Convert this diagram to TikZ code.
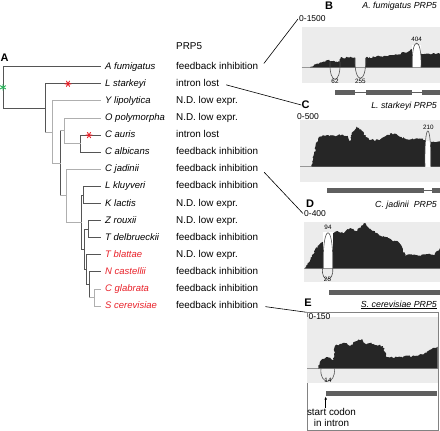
\documentclass[tikz,border=0pt]{standalone}
\usepackage{fontspec}
\setmainfont{Liberation Sans}
\usetikzlibrary{positioning,decorations.pathmorphing,arrows.meta}
\definecolor{TreeDark}{RGB}{85,85,85}
\definecolor{TreeLight}{RGB}{175,175,175}
\definecolor{SpRed}{RGB}{232,32,40}
\definecolor{StarGreen}{RGB}{40,180,90}
\definecolor{PanelBg}{RGB}{236,236,236}
\definecolor{CovDark}{RGB}{38,38,38}
\definecolor{ExonGray}{RGB}{95,95,95}
\definecolor{JuncGray}{RGB}{80,80,80}
\definecolor{BaseGray}{RGB}{150,150,150}
\definecolor{FrameGray}{RGB}{130,130,130}
\newcommand{\fsz}[1]{\fontsize{#1}{1.2\dimexpr#1pt\relax}\selectfont}

\tikzset{
  branch/.style={line width=1pt, line cap=rect},
  darkbr/.style={branch, draw=TreeDark},
  lightbr/.style={branch, draw=TreeLight},
  species/.style={anchor=west, inner xsep=5pt, inner ysep=0pt, text height=7pt, text depth=2pt, font=\fsz{9.5}\itshape},
  status/.style={anchor=west, inner xsep=3pt, inner ysep=0pt, text height=7pt, text depth=2pt, font=\fsz{9.9}},
  link/.style={draw=black, line width=0.6pt, shorten <=4pt},
  panellbl/.style={inner sep=0pt, font=\fsz{11}\bfseries},
  paneltitle/.style={anchor=east, inner sep=0pt, font=\fsz{8.8}\itshape},
  scalelbl/.style={anchor=west, inner sep=1pt, font=\fsz{8.5}},
  junction/.style={draw=JuncGray, line width=0.6pt},
  jlbl/.style={inner sep=0.3pt, font=\fsz{6.3}},
  basegray/.style={draw=BaseGray, line width=0.6pt},
  exon/.style={fill=ExonGray, draw=none, anchor=west, inner sep=0pt, minimum height=5pt},
  intron/.style={draw=ExonGray, line width=0.7pt},
  cov/.style={decoration={random steps, segment length=1.3pt, amplitude=0.9pt}},
  pics/snpmark/.style={code={\draw[line width=0.9pt] (-3.3,0) -- (3.3,0) (60:3.3) -- (240:3.3) (120:3.3) -- (300:3.3);}}
}

\begin{document}
\pgfmathsetseed{7}
\begin{tikzpicture}[x=1pt, y=-1pt, >={Latex[length=3pt,width=2.6pt]}]
  \useasboundingbox (0,0) rectangle (440,431);

  % panel A: tree and PRP5 status
  \node[panellbl] (lblA) at (4.5,57.5) {A};
  \node[status] (prphead) at (173,47) {PRP5};

  \foreach \nm/\txt/\col/\st [count=\i from 0] in {
      afu/A fumigatus/black/feedback inhibition,
      lst/L starkeyi/black/intron lost,
      ylp/Y lipolytica/black/N.D. low expr.,
      opo/O polymorpha/black/N.D. low expr.,
      cau/C auris/black/intron lost,
      cal/C albicans/black/feedback inhibition,
      cja/C jadinii/black/feedback inhibition,
      lkl/L kluyveri/black/feedback inhibition,
      kla/K lactis/black/N.D. low expr.,
      zro/Z rouxii/black/N.D. low expr.,
      tde/T delbrueckii/black/feedback inhibition,
      tbl/T blattae/SpRed/N.D. low expr.,
      nca/N castellii/SpRed/feedback inhibition,
      cgl/C glabrata/SpRed/feedback inhibition,
      sce/S cerevisiae/SpRed/feedback inhibition}
  {
    \node[species, text=\col] (\nm) at (100,{66.7+17.1*\i}) {\txt};
    \node[status] (st\i) at (173,{66.7+17.1*\i}) {\st};
  }

  \coordinate (root) at (3,87.3);
  \coordinate (n1) at (45,108);
  \coordinate (n2) at (52.7,132.1);
  \coordinate (n3) at (60,163.3);
  \coordinate (n4) at (64.3,130.8);
  \coordinate (n5) at (80,143.7);
  \coordinate (n6) at (66.7,195.8);
  \coordinate (n7) at (81.7,222.2);
  \coordinate (n8) at (83,195);
  \coordinate (n9) at (84.3,249.5);
  \coordinate (n10) at (88.3,229.2);
  \coordinate (n11) at (86,269.8);
  \coordinate (n12) at (89.3,284.7);
  \coordinate (n13) at (94.3,297.5);

  % verticals
  \foreach \p/\a/\b/\s in {root/afu.west/n1/darkbr, n1/lst.west/n2/darkbr,
      n2/ylp.west/n3/lightbr, n3/n4/n6/darkbr, n4/opo.west/n5/lightbr,
      n5/cau.west/cal.west/darkbr, n6/cja.west/n7/lightbr, n7/n8/n9/darkbr,
      n8/lkl.west/kla.west/darkbr, n9/n10/n11/darkbr, n10/zro.west/tde.west/darkbr,
      n11/tbl.west/n12/darkbr, n12/nca.west/n13/darkbr, n13/cgl.west/sce.west/lightbr}
    \draw[\s] (\p |- \a) -- (\p |- \b);
  % horizontals
  \foreach \p/\c/\s in {root/afu.west/darkbr, root/n1/darkbr, n1/lst.west/darkbr,
      n1/n2/lightbr, n2/ylp.west/lightbr, n2/n3/lightbr, n3/n4/lightbr, n3/n6/lightbr,
      n4/opo.west/lightbr, n4/n5/lightbr, n5/cau.west/darkbr, n5/cal.west/darkbr,
      n6/cja.west/lightbr, n6/n7/lightbr, n7/n8/darkbr, n7/n9/darkbr,
      n8/lkl.west/darkbr, n8/kla.west/darkbr, n9/n10/darkbr, n9/n11/darkbr,
      n10/zro.west/darkbr, n10/tde.west/darkbr, n11/tbl.west/darkbr, n11/n12/darkbr,
      n12/nca.west/darkbr, n12/n13/lightbr, n13/cgl.west/lightbr, n13/sce.west/lightbr}
    \draw[\s] (\p |- \c) -- (\c);

  \pic[StarGreen, rotate=90] at (root) {snpmark};
  \pic[SpRed] at (68,83.8) {snpmark};
  \pic[SpRed] at (89,135.1) {snpmark};

  % panel B
  \fill[PanelBg] (301.7,26.7) rectangle (440,83.3);
  \draw[basegray] (301.7,67.3) -- (440,67.3);
  \fill[CovDark] decorate[cov]{(310,67.3) -- (316,64.5) -- (322,62.3) -- (328.3,60) -- (330,61.7) -- (340,61.5) -- (340.5,57.8) -- (355,57.3)} -- (355,67.3);
  \fill[CovDark] decorate[cov]{(365.7,57.8) -- (380,56.5) -- (395,54.5) -- (405,52.5) -- (410,50.5) -- (412.3,49)} -- (412.3,67.3) -- (365.7,67.3);
  \fill[CovDark] decorate[cov]{(421,53.3) -- (430,54) -- (440,53.8)} -- (440,67.3) -- (421,67.3);
  \fill[white] (412.3,45) rectangle (421,67.3);
  \draw[junction] (330,62) .. controls (329,85) and (341,85) .. (340,62);
  \draw[junction] (355,58) .. controls (354,85) and (366.7,85) .. (365.7,58);
  \draw[junction] (412.3,67.3) .. controls (411,35) and (422.3,35) .. (421,67.3);
  \node[jlbl] (j62) at (335,81) {62};
  \node[jlbl] (j255) at (360.4,81) {255};
  \node[jlbl] (j404) at (416.7,39) {404};
  \node[exon, minimum width=20.7pt] (bex1) at (334.3,92.5) {};
  \node[exon, minimum width=46pt] (bex2) at (365.7,92.5) {};
  \node[exon, minimum width=18.3pt] (bex3) at (421.7,92.5) {};
  \draw[intron] (bex1.east) -- (bex2.west);
  \draw[intron] (bex2.east) -- (bex3.west);
  \node[panellbl] (blbl) at (329,6) {B};
  \node[paneltitle] (btitle) at (437,6.5) {A. fumigatus PRP5};
  \node[scalelbl] (bscale) at (298,19) {0-1500};

  % panel C
  \fill[PanelBg] (300,120) rectangle (440,181.7);
  \draw[basegray] (300,166.7) -- (440,166.7);
  \fill[CovDark] decorate[cov]{(311.7,166.7) -- (314,154) -- (317,142) -- (320,136.7) -- (328,135) -- (335,136) -- (342,134.5) -- (348,137) -- (349.5,143) -- (352,134) -- (356.7,126.7) -- (362,131) -- (366,137) -- (371,140) -- (380,139.5) -- (387,135) -- (394,133.5) -- (400,137) -- (408,139.5) -- (416,138.5) -- (425,140)} -- (425,166.7);
  \fill[CovDark] decorate[cov]{(430.7,141.7) -- (440,141.5)} -- (440,166.7) -- (430.7,166.7);
  \fill[white] (425,141) rectangle (430.7,166.7);
  \draw[junction] (425,166.7) .. controls (424,119) and (431.7,119) .. (430.7,166.7);
  \node[jlbl] (j210) at (428.3,127.5) {210};
  \node[exon, minimum width=96.6pt] (cex1) at (326.7,190.8) {};
  \node[exon, minimum width=8.3pt] (cex2) at (431.7,190.8) {};
  \draw[intron] (cex1.east) -- (cex2.west);
  \node[panellbl] (clbl) at (305.5,105) {C};
  \node[paneltitle] (ctitle) at (437,106) {L. starkeyi PRP5};
  \node[scalelbl] (cscale) at (296,116.5) {0-500};

  % panel D
  \fill[PanelBg] (304,221.7) rectangle (440,281.7);
  \draw[basegray] (304,268.3) -- (440,268.3);
  \fill[CovDark] decorate[cov]{(305,268.3) -- (310,261) -- (315,250) -- (319,245) -- (323.3,241.7)} -- (323.3,268.3);
  \fill[CovDark] decorate[cov]{(332.7,233) -- (338,231) -- (344,233) -- (350,228) -- (356,231) -- (361,226.5) -- (365,223.3) -- (369,229) -- (374,231) -- (380,235.5) -- (386,237) -- (392,240.5) -- (398,241.5) -- (402,247) -- (405,255) -- (412,254.5) -- (420,255.5) -- (428,254) -- (435,254.5) -- (440,248)} -- (440,268.3) -- (332.7,268.3);
  \fill[white] (323.3,232) rectangle (332.7,268.3);
  \draw[junction] (323.3,268.3) .. controls (322,221) and (334,221) .. (332.7,268.3);
  \draw[junction] (322.5,268.3) .. controls (321,283) and (334,283) .. (332.7,268.3);
  \node[jlbl] (j94) at (328,227) {94};
  \node[jlbl] (j25) at (327.5,279.5) {25};
  \node[exon, minimum width=111.7pt] (dex1) at (328.3,292.2) {};
  \node[panellbl] (dlbl) at (310,204) {D};
  \node[paneltitle] (dtitle) at (437,205) {C. jadinii\ \ PRP5};
  \node[scalelbl] (dscale) at (303,213.5) {0-400};

  % panel E
  \node[draw=FrameGray, line width=0.8pt, minimum width=131.6pt, minimum height=117.7pt, anchor=north west, inner sep=0pt] (ebox) at (306.7,312.3) {};
  \fill[PanelBg] (307.3,316.7) rectangle (437.7,382.7);
  \draw[basegray] (307.3,368.3) -- (437.7,368.3);
  \fill[CovDark] decorate[cov]{(318,368.3) -- (321.7,359.5) -- (326,357) -- (330,357.5) -- (333.5,360) -- (335,346) -- (340,344) -- (345,343) -- (350,346) -- (355,341.5) -- (361.7,339) -- (366,344.5) -- (370,343) -- (376,345) -- (383,346) -- (386.7,357) -- (395,357.5) -- (405,356.5) -- (415,356) -- (423,354.5) -- (430,349.5) -- (437.7,346.7)} -- (437.7,368.3);
  \draw[junction] (321,368.3) .. controls (319,385.5) and (336.3,385.5) .. (334.3,368.3);
  \node[jlbl] (j14) at (328,380) {14};
  \node[exon, minimum width=111pt] (eex1) at (325.7,393.8) {};
  \node[align=center, inner sep=0pt, font=\fsz{9.9}] (startlbl) at (331.5,417.5) {start codon\\in intron};
  \draw[->, line width=0.6pt] (eex1.south west |- startlbl.north) -- (eex1.south west);
  \node[panellbl] (elbl) at (308,303) {E};
  \node[paneltitle] (etitle) at (437,305) {\underline{S. cerevisiae PRP5}};
  \node[scalelbl] (escale) at (307.5,316.5) {0-150};

  % links from the table to the panels
  \draw[link] (st0.east) -- (bscale.west);
  \draw[link] (st1.east) -- (clbl.west);
  \draw[link] (st6.east) -- (dscale.west);
  \draw[link] (st14.east) -- (ebox.north west);
\end{tikzpicture}
\end{document}
